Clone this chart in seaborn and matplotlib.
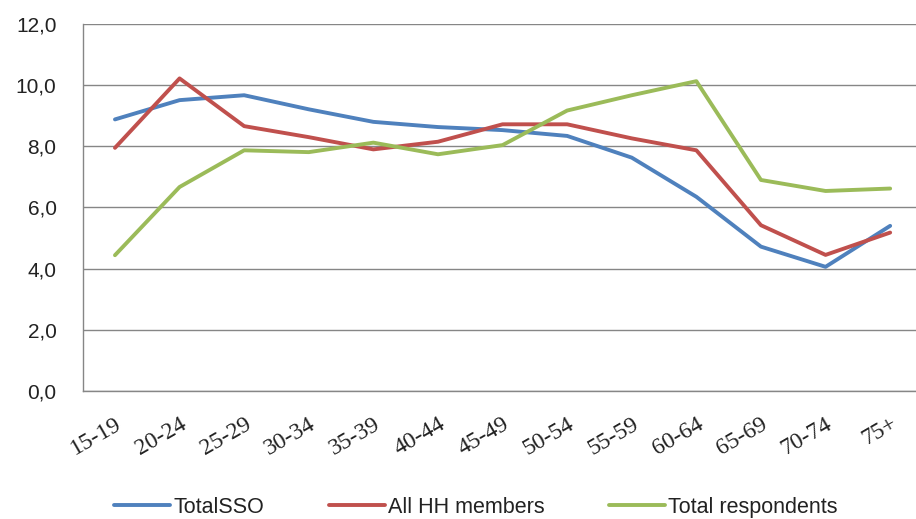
import pandas as pd
import numpy as np
import matplotlib
matplotlib.use("Agg")
import matplotlib.pyplot as plt
from matplotlib.ticker import FixedLocator, FuncFormatter
import seaborn as sns

age_groups = ["15-19", "20-24", "25-29", "30-34", "35-39", "40-44", "45-49",
              "50-54", "55-59", "60-64", "65-69", "70-74", "75+"]
total_sso = [8.88, 9.51, 9.67, 9.21, 8.80, 8.63, 8.53, 8.34, 7.63, 6.35, 4.72, 4.06, 5.40]
all_hh = [7.95, 10.22, 8.66, 8.30, 7.90, 8.15, 8.72, 8.72, 8.26, 7.87, 5.42, 4.45, 5.18]
total_resp = [4.44, 6.67, 7.87, 7.81, 8.12, 7.74, 8.04, 9.17, 9.67, 10.13, 6.90, 6.54, 6.62]
series_names = ["TotalSSO", "All HH members", "Total respondents"]
colors = ["#4F81BD", "#C0504D", "#9BBB59"]

df = pd.DataFrame({"age": age_groups * 3,
                   "value": total_sso + all_hh + total_resp,
                   "series": np.repeat(series_names, len(age_groups))})

sns.set_style("white")
plt.rcParams['font.family'] = ['Liberation Sans', 'DejaVu Sans']
plt.rcParams['font.size'] = 15

fig = plt.figure(figsize=(9.16, 5.19), dpi=100)
ax = fig.add_axes([0.0906, 0.2466, 0.9094, 0.7072])

sns.lineplot(data=df, x="age", y="value", hue="series", palette=colors,
             linewidth=2.8, ax=ax, sort=False)

ax.set_xlim(-0.495, 12.4)
ax.set_ylim(0, 12)
ax.set_yticks(np.arange(0, 13, 2))
ax.yaxis.set_major_formatter(FuncFormatter(lambda v, p: f"{v:.1f}".replace(".", ",")))
ax.grid(axis="y", color="#868686", linewidth=1)
ax.set_axisbelow(True)

ax.set_xticks(range(len(age_groups)))
ax.set_xticklabels(age_groups, rotation=30, ha="right", rotation_mode="anchor",
                   family=["Liberation Serif", "DejaVu Serif"], fontsize=17)
ax.xaxis.set_minor_locator(FixedLocator(np.arange(-0.5, 13, 1)))
ax.tick_params(axis="x", which="major", length=0, pad=16, labelcolor="#222222")
ax.tick_params(axis="x", which="minor", length=6.5, color="#868686", direction="out")
ax.tick_params(axis="y", length=6.5, color="#868686", direction="out", labelsize=15,
               labelcolor="#222222", pad=12.5)

for side in ["top", "right"]:
    ax.spines[side].set_visible(False)
for side in ["left", "bottom"]:
    ax.spines[side].set_color("#868686")
    ax.spines[side].set_linewidth(1)

ax.set_xlabel("")
ax.set_ylabel("")
ax.legend(title=None, loc="center", bbox_to_anchor=(0.472, -0.317), ncol=3,
          frameon=False, fontsize=15.5, handlelength=2.6, columnspacing=3.0,
          handletextpad=0.15, labelcolor="#222222")

fig.savefig("out.png", dpi=100)
